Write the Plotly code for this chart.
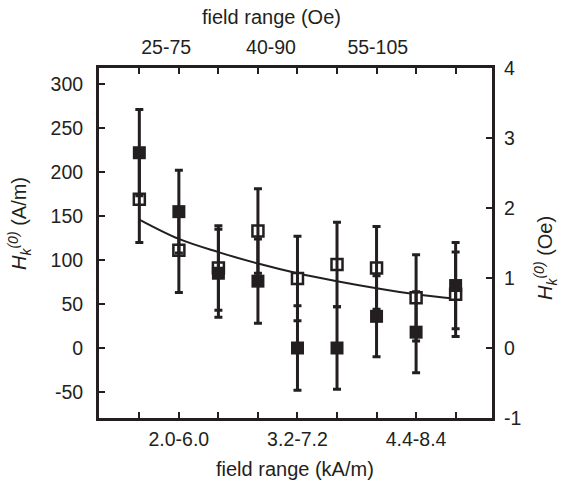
import plotly.graph_objects as go

# ---- data ----
x_pos = [1, 2, 3, 4, 5, 6, 7, 8, 9]
filled_vals = [222, 155, 85, 76, 0, 0, 36, 18, 71]
filled_err = [49, 47, 50, 48, 48, 47, 46, 46, 49]
open_vals = [169, 111, 91, 133, 79, 95, 91, 57, 61]
open_err = [49, 48, 48, 48, 48, 48, 47, 49, 48]
fit_vals = [146, 124, 109, 96, 85, 76, 68, 61, 56]

bottom_tickvals = [1, 2, 3, 4, 5, 6, 7, 8, 9]
bottom_ticktext = ["", "2.0-6.0", "", "", "3.2-7.2", "", "", "4.4-8.4", ""]
top_tickvals = [1.68, 4.33, 7.03]
top_ticktext = ["25-75", "40-90", "55-105"]
left_tickvals = [-50, 0, 50, 100, 150, 200, 250, 300]
left_ticktext = ["-50", "0", "50", "100", "150", "200", "250", "300"]
right_tickvals = [-1, 0, 1, 2, 3, 4]
right_ticktext = ["-1", "0", "1", "2", "3", "4"]

INK = "#231f20"
FONT = "Liberation Sans, Arial, sans-serif"
AM_PER_OE = 79.577
TICK_FS = 19.5
TITLE_FS = 20

W, H = 569, 487
ML, MR, MT, MB = 99, 77, 68, 69
PW, PH = W - ML - MR, H - MT - MB

xr = [-0.02, 9.92]
yr_right = [-1.0, 4.0]
yr_left = [yr_right[0] * AM_PER_OE, yr_right[1] * AM_PER_OE]

fig = go.Figure()

fig.add_trace(go.Scatter(
    x=x_pos, y=fit_vals, mode="lines", line=dict(color=INK, width=2, shape="spline"),
    showlegend=False, hoverinfo="skip"))

fig.add_trace(go.Scatter(
    x=x_pos, y=open_vals, mode="markers",
    marker=dict(symbol="square", size=11, color="white", line=dict(color=INK, width=2.5)),
    showlegend=False))

fig.add_trace(go.Scatter(
    x=x_pos, y=open_vals, mode="markers",
    marker=dict(size=1, color="rgba(0,0,0,0)"),
    error_y=dict(type="data", array=open_err, visible=True, color=INK, thickness=3, width=4),
    showlegend=False))

fig.add_trace(go.Scatter(
    x=x_pos, y=filled_vals, mode="markers",
    marker=dict(symbol="square", size=13, color=INK, line=dict(width=0)),
    error_y=dict(type="data", array=filled_err, visible=True, color=INK, thickness=3, width=4),
    showlegend=False))

# dummy traces to activate secondary axes
fig.add_trace(go.Scatter(x=[None], y=[None], xaxis="x2", yaxis="y", showlegend=False))
fig.add_trace(go.Scatter(x=[None], y=[None], xaxis="x3", yaxis="y", showlegend=False))
fig.add_trace(go.Scatter(x=[None], y=[None], xaxis="x", yaxis="y2", showlegend=False))

common = dict(showgrid=False, zeroline=False, automargin=False)


def px_x(p):
    return (p - ML) / PW


def px_y(p):
    return 1 - (p - MT) / PH


fig.update_layout(
    width=W, height=H,
    margin=dict(l=ML, r=MR, t=MT, b=MB),
    paper_bgcolor="white", plot_bgcolor="white",
    font=dict(family=FONT, size=TICK_FS, color=INK),
    xaxis=dict(
        range=xr, tickmode="array", tickvals=bottom_tickvals, ticktext=bottom_ticktext,
        ticks="inside", ticklen=6, tickwidth=2, tickcolor=INK, ticklabelstandoff=2,
        showline=True, linewidth=3, linecolor=INK, **common,
    ),
    xaxis2=dict(
        range=xr, overlaying="x", side="top", tickmode="array",
        tickvals=bottom_tickvals, ticktext=[""] * len(bottom_tickvals),
        ticks="inside", ticklen=6, tickwidth=2, tickcolor=INK,
        showline=True, linewidth=3, linecolor=INK, **common,
    ),
    xaxis3=dict(
        range=xr, overlaying="x", side="top", tickmode="array",
        tickvals=top_tickvals, ticktext=top_ticktext, ticks="", ticklabelstandoff=9,
        showline=False, **common,
    ),
    yaxis=dict(
        range=yr_left, tickmode="array", tickvals=left_tickvals, ticktext=left_ticktext,
        ticks="inside", ticklen=6, tickwidth=2, tickcolor=INK, ticklabelstandoff=9,
        showline=True, linewidth=3, linecolor=INK, **common,
    ),
    yaxis2=dict(
        range=yr_right, overlaying="y", side="right", tickmode="array",
        tickvals=right_tickvals, ticktext=right_ticktext,
        ticks="inside", ticklen=6, tickwidth=2, tickcolor=INK, ticklabelstandoff=5,
        showline=True, linewidth=3, linecolor=INK, **common,
    ),
    annotations=[
        dict(text="field range (kA/m)", xref="paper", yref="paper",
             x=px_x(295), y=px_y(469), xanchor="center", yanchor="middle",
             showarrow=False, font=dict(size=TITLE_FS)),
        dict(text="field range (Oe)", xref="paper", yref="paper",
             x=px_x(271), y=px_y(17), xanchor="center", yanchor="middle",
             showarrow=False, font=dict(size=TITLE_FS)),
        dict(text="<i>H</i><sub><i>k</i></sub><sup><i>(0)</i></sup> (A/m)",
             xref="paper", yref="paper", x=px_x(19), y=px_y(224),
             xanchor="center", yanchor="middle", textangle=-90,
             showarrow=False, font=dict(size=TITLE_FS)),
        dict(text="<i>H</i><sub><i>k</i></sub><sup><i>(0)</i></sup> (Oe)",
             xref="paper", yref="paper", x=px_x(545), y=px_y(258),
             xanchor="center", yanchor="middle", textangle=-90,
             showarrow=False, font=dict(size=TITLE_FS)),
    ],
)

fig.write_html("out.html", config={"displayModeBar": False},
               post_script="document.body.style.margin='0';")
